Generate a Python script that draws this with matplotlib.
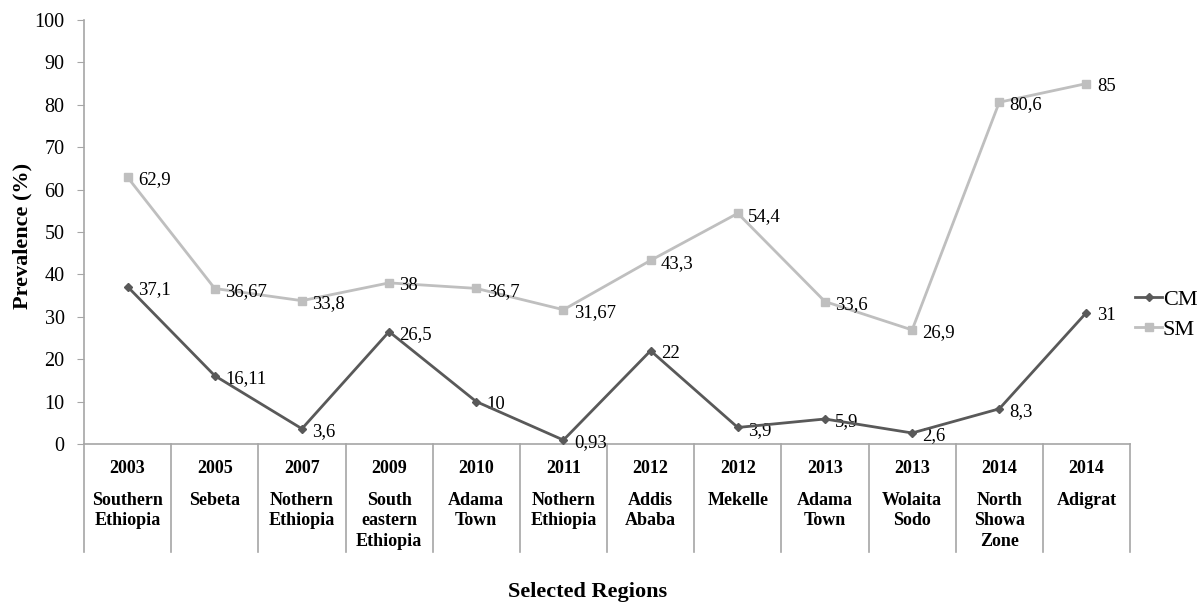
import matplotlib.pyplot as plt
from matplotlib.lines import Line2D
import matplotlib.transforms as mtransforms

plt.rcParams['font.family'] = ['Liberation Serif', 'DejaVu Serif']

years = ["2003", "2005", "2007", "2009", "2010", "2011",
         "2012", "2012", "2013", "2013", "2014", "2014"]
regions = ["Southern\nEthiopia", "Sebeta", "Nothern\nEthiopia", "South\neastern\nEthiopia",
           "Adama\nTown", "Nothern\nEthiopia", "Addis\nAbaba", "Mekelle",
           "Adama\nTown", "Wolaita\nSodo", "North\nShowa\nZone", "Adigrat"]
cm = [37.1, 16.11, 3.6, 26.5, 10, 0.93, 22, 3.9, 5.9, 2.6, 8.3, 31]
sm = [62.9, 36.67, 33.8, 38, 36.7, 31.67, 43.3, 54.4, 33.6, 26.9, 80.6, 85]
cm_labels = ["37,1", "16,11", "3,6", "26,5", "10", "0,93", "22", "3,9", "5,9", "2,6", "8,3", "31"]
sm_labels = ["62,9", "36,67", "33,8", "38", "36,7", "31,67", "43,3", "54,4", "33,6", "26,9", "80,6", "85"]

cm_color = "#595959"
sm_color = "#bfbfbf"
axis_color = "#a6a6a6"

fig = plt.figure(figsize=(12, 6.05), dpi=100)
ax = fig.add_axes([0.0700, 0.2661, 0.8717, 0.7009])

x = list(range(len(years)))
ax.plot(x, sm, color=sm_color, lw=2, marker="s", ms=6, label="SM", zorder=3)
ax.plot(x, cm, color=cm_color, lw=2, marker="D", ms=4.5, label="CM", zorder=4)

for i, (v, t) in enumerate(zip(sm, sm_labels)):
    ax.annotate(t, (i, v), xytext=(7.5, -2), textcoords="offset points",
                va="center", ha="left", fontsize=13.5)
for i, (v, t) in enumerate(zip(cm, cm_labels)):
    ax.annotate(t, (i, v), xytext=(7.5, -2), textcoords="offset points",
                va="center", ha="left", fontsize=13.5)

ax.set_xlim(-0.5, len(years) - 0.5)
ax.set_ylim(0, 100)
ax.set_yticks(range(0, 101, 10))
ax.set_xticks([])
ax.tick_params(axis="y", labelsize=14.5, length=5, color=axis_color, pad=9)
for s in ["top", "right"]:
    ax.spines[s].set_visible(False)
for s in ["left", "bottom"]:
    ax.spines[s].set_color(axis_color)
    ax.spines[s].set_linewidth(1.2)

# category table below the axis
trans = mtransforms.blended_transform_factory(ax.transData, ax.transAxes)
for i in range(len(years) + 1):
    ax.plot([i - 0.5, i - 0.5], [0, -0.255], transform=trans, color=axis_color,
            lw=1.2, clip_on=False)
for i, (yr, rg) in enumerate(zip(years, regions)):
    ax.text(i, -0.058, yr, transform=trans, ha="center", va="center",
            fontsize=13, fontweight="bold")
    ax.text(i, -0.112, rg, transform=trans, ha="center", va="top",
            fontsize=13, fontweight="bold", linespacing=1.3)

fig.text(0.019, 0.61, "Prevalence (%)", rotation=90, ha="center", va="center",
         fontsize=16, fontweight="bold")
fig.text(0.49, 0.022, "Selected Regions", ha="center", va="center",
         fontsize=16, fontweight="bold")

handles = [Line2D([], [], color=cm_color, lw=2, marker="D", ms=4),
           Line2D([], [], color=sm_color, lw=2, marker="s", ms=5.5)]
fig.legend(handles, ["CM", "SM"], loc="center left", bbox_to_anchor=(0.946, 0.48),
           frameon=False, fontsize=16, handlelength=1.2, handletextpad=0.05,
           labelspacing=0.45, borderpad=0, borderaxespad=0)

fig.savefig("out.png", dpi=100)
